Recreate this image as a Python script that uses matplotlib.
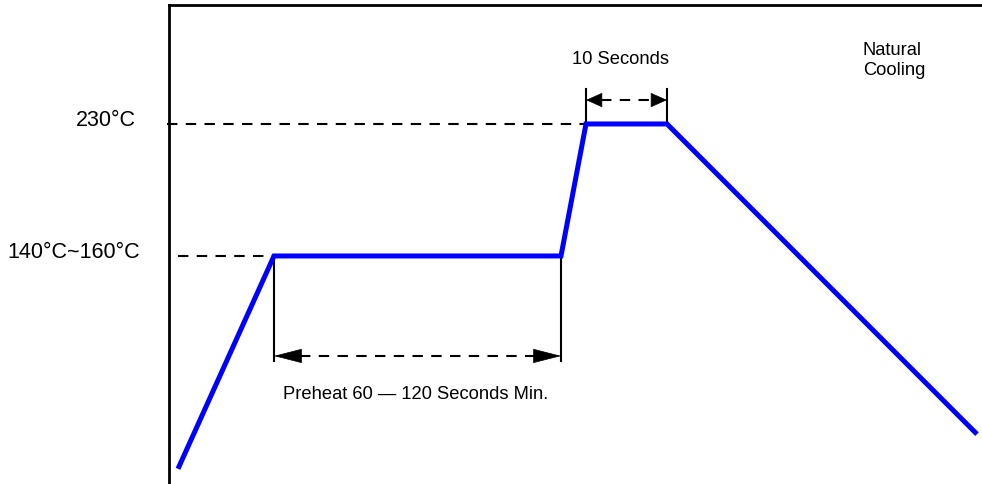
import numpy as np
import matplotlib.pyplot as plt

plt.rcParams['font.family'] = ['Liberation Sans', 'DejaVu Sans']

# reflow profile (schematic): time units, temperature in C
t = [9, 105, 392, 417, 498, 808]
temp = [21, 150, 150, 230, 230, 42]

peak = 230
soak = 150
preheat_t = (105, 392)
peak_t = (417, 498)

fig = plt.figure(figsize=(9.82, 4.85), dpi=100)
ax = fig.add_axes([169/982, 0, 1 - 169/982, 479/485])
ax.set_xlim(0, 813)
ax.set_ylim(11.8, 302.1)
for s in ['right', 'bottom']:
    ax.spines[s].set_visible(False)
for s in ['left', 'top']:
    ax.spines[s].set_linewidth(2.0)
ax.set_xticks([])
ax.set_yticks([])

dash = (0, (5, 4))

# dashed reference lines
ax.plot([-2, peak_t[0]], [peak, peak], color='black', lw=1.5, ls=dash, clip_on=False)
ax.plot([t[0], t[1]], [soak, soak], color='black', lw=1.5, ls=dash)

# profile
ax.plot(t, temp, color='#0000ff', lw=3.6, solid_capstyle='butt', solid_joinstyle='miter', zorder=3)


def span_arrow(x0, x1, y, head):
    ax.plot([x0 + head, x1 - head], [y, y], color='black', lw=1.5, ls=dash)
    style = '-|>,head_length=%g,head_width=4.8' % (head * 0.72)
    ax.annotate('', xy=(x0, y), xytext=(x0 + head, y),
                arrowprops=dict(arrowstyle=style, mutation_scale=1, color='black',
                                lw=0.5, shrinkA=0, shrinkB=0))
    ax.annotate('', xy=(x1, y), xytext=(x1 - head, y),
                arrowprops=dict(arrowstyle=style, mutation_scale=1, color='black',
                                lw=0.5, shrinkA=0, shrinkB=0))


# preheat span
for x in preheat_t:
    ax.plot([x, x], [soak, 86.4], color='black', lw=1.5)
span_arrow(preheat_t[0], preheat_t[1], 89.4, 26)
ax.text(247, 66.4, 'Preheat 60 \u2014 120 Seconds Min.', ha='center', va='center', fontsize=13.2)

# peak span
for x in peak_t:
    ax.plot([x, x], [peak, 251.2], color='black', lw=1.5)
span_arrow(peak_t[0], peak_t[1], 244.5, 15)
ax.text(451, 269.4, '10 Seconds', ha='center', va='center', fontsize=13.2)

ax.text(694, 269, 'Natural\nCooling', ha='left', va='center', fontsize=13.2, linespacing=1.2)

# temperature labels
ax.text(-33, 232.5, '230\u00b0C', ha='right', va='center', fontsize=15.5, clip_on=False)
ax.text(-29, 152.5, '140\u00b0C~160\u00b0C', ha='right', va='center', fontsize=15.5, clip_on=False)

plt.savefig('out.png', dpi=100)
